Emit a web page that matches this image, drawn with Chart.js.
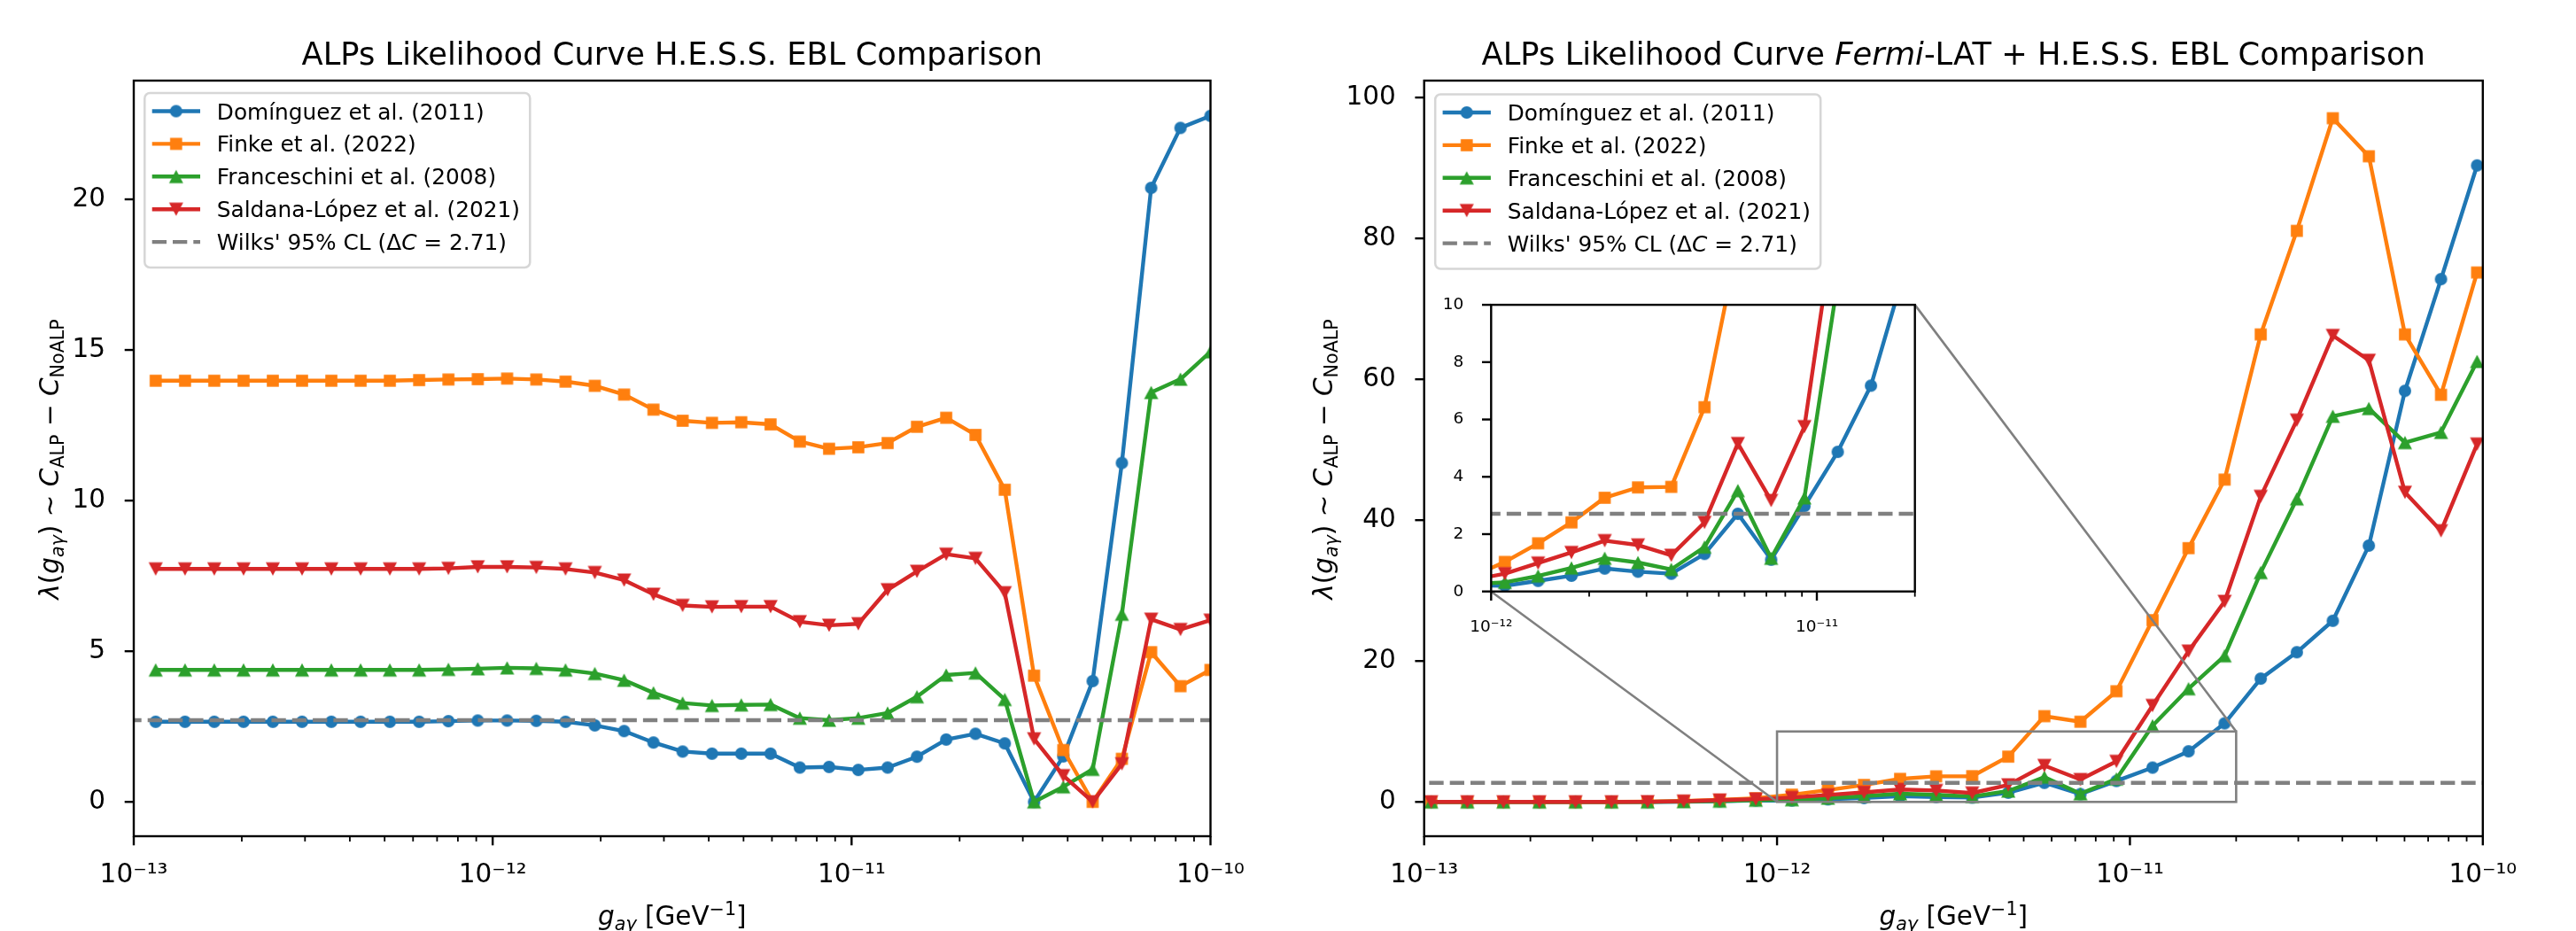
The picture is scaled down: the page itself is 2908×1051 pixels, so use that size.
<!DOCTYPE html>
<html>
<head>
<meta charset="utf-8">
<script src="https://cdn.jsdelivr.net/npm/chart.js@4.4.1/dist/chart.umd.min.js"></script>
<style>
  html, body { margin: 0; padding: 0; background: #fff; }
  #wrap { position: relative; width: 2908px; height: 1051px; overflow: hidden; background: #fff; }
  #wrap canvas { position: absolute; }
</style>
</head>
<body>
<div id="wrap">
  <canvas id="hessChart" width="1460" height="1051" style="left:0px;top:0px"></canvas>
  <canvas id="comboChart" width="1448" height="1051" style="left:1460px;top:0px"></canvas>
  <canvas id="insetChart" width="570" height="420" style="left:1610px;top:310px"></canvas>
</div>
<script>
// ---- data ----
const seriesNames = ['Domínguez et al. (2011)', 'Finke et al. (2022)', 'Franceschini et al. (2008)', 'Saldana-López et al. (2021)'];
const seriesColors = ['#1f77b4', '#ff7f0e', '#2ca02c', '#d62728'];
const seriesMarkers = ['o', 's', '^', 'v'];

// left panel: H.E.S.S. only
const hessX = [1.151e-13, 1.389e-13, 1.676e-13, 2.022e-13, 2.440e-13, 2.944e-13, 3.552e-13, 4.286e-13, 5.171e-13, 6.240e-13,
  7.529e-13, 9.087e-13, 1.097e-12, 1.323e-12, 1.596e-12, 1.926e-12, 2.324e-12, 2.805e-12, 3.383e-12, 4.083e-12,
  4.927e-12, 5.945e-12, 7.174e-12, 8.654e-12, 1.044e-11, 1.260e-11, 1.521e-11, 1.835e-11, 2.214e-11, 2.672e-11,
  3.224e-11, 3.890e-11, 4.695e-11, 5.664e-11, 6.834e-11, 8.246e-11, 1.0e-10];
const hessDominguez = [2.66, 2.66, 2.66, 2.66, 2.66, 2.66, 2.66, 2.66, 2.66, 2.66,
  2.68, 2.70, 2.70, 2.69, 2.66, 2.54, 2.35, 1.97, 1.67, 1.60,
  1.60, 1.60, 1.14, 1.16, 1.06, 1.14, 1.50, 2.07, 2.26, 1.94,
  0.00, 1.51, 4.01, 11.25, 20.38, 22.37, 22.77];
const hessFinke = [13.98, 13.98, 13.98, 13.98, 13.98, 13.98, 13.98, 13.98, 13.98, 14.00,
  14.02, 14.03, 14.05, 14.02, 13.95, 13.81, 13.52, 13.02, 12.65, 12.58,
  12.60, 12.53, 11.96, 11.72, 11.77, 11.91, 12.45, 12.75, 12.18, 10.36,
  4.19, 1.72, 0.00, 1.43, 4.97, 3.84, 4.38];
const hessFranceschini = [4.38, 4.38, 4.38, 4.38, 4.38, 4.38, 4.38, 4.38, 4.38, 4.38,
  4.40, 4.42, 4.45, 4.43, 4.38, 4.26, 4.04, 3.62, 3.28, 3.20,
  3.22, 3.23, 2.78, 2.71, 2.78, 2.95, 3.49, 4.21, 4.28, 3.40,
  0.00, 0.50, 1.08, 6.23, 13.59, 14.03, 14.94];
const hessSaldana = [7.73, 7.73, 7.73, 7.73, 7.73, 7.73, 7.73, 7.73, 7.73, 7.73,
  7.75, 7.80, 7.80, 7.78, 7.73, 7.61, 7.36, 6.89, 6.52, 6.47,
  6.48, 6.48, 5.98, 5.86, 5.91, 7.04, 7.65, 8.22, 8.08, 6.94,
  2.09, 0.87, 0.00, 1.26, 6.06, 5.72, 6.03];

// right panel: Fermi-LAT + H.E.S.S.
const comboX = [1.047e-13, 1.325e-13, 1.677e-13, 2.121e-13, 2.684e-13, 3.396e-13, 4.297e-13, 5.437e-13, 6.880e-13, 8.706e-13,
  1.102e-12, 1.394e-12, 1.764e-12, 2.232e-12, 2.824e-12, 3.573e-12, 4.521e-12, 5.721e-12, 7.239e-12, 9.159e-12,
  1.159e-11, 1.466e-11, 1.855e-11, 2.348e-11, 2.971e-11, 3.758e-11, 4.755e-11, 6.017e-11, 7.613e-11, 9.634e-11];
const comboDominguez = [0, 0, 0, 0, 0, 0, 0.01, 0.04, 0.10, 0.22,
  0.20, 0.37, 0.55, 0.80, 0.69, 0.62, 1.31, 2.71, 1.11, 2.98,
  4.87, 7.18, 11.16, 17.50, 21.25, 25.72, 36.39, 58.36, 74.22, 90.36];
const comboFinke = [0, 0, 0, 0, 0, 0, 0.03, 0.12, 0.30, 0.52,
  1.03, 1.68, 2.41, 3.27, 3.63, 3.65, 6.43, 12.17, 11.39, 15.71,
  25.80, 36.03, 45.76, 66.37, 81.07, 97.06, 91.66, 66.37, 57.80, 75.16];
const comboFranceschini = [0, 0, 0, 0, 0, 0, 0, 0.05, 0.12, 0.25,
  0.32, 0.54, 0.82, 1.16, 1.01, 0.77, 1.55, 3.52, 1.16, 3.27,
  10.81, 16.07, 20.75, 32.56, 43.02, 54.76, 55.85, 51.02, 52.46, 62.54];
const comboSaldana = [0, 0, 0, 0, 0, 0, 0.02, 0.10, 0.25, 0.40,
  0.62, 0.99, 1.36, 1.77, 1.62, 1.26, 2.41, 5.16, 3.17, 5.75,
  13.68, 21.40, 28.46, 43.37, 54.19, 66.22, 62.69, 43.95, 38.48, 50.80];

const wilksLevel = 2.71;

// axis ranges and ticks
const xRange = [1e-13, 1e-10];
const xMajorTicks = [1e-13, 1e-12, 1e-11, 1e-10];
const hessYRange = [-1.14, 23.94];
const hessYTicks = [0, 5, 10, 15, 20];
const comboYRange = [-4.87, 102.4];
const comboYTicks = [0, 20, 40, 60, 80, 100];
const insetXRange = [1e-12, 2e-11];
const insetXTicks = [1e-12, 1e-11];
const insetYRange = [0, 10];
const insetYTicks = [0, 2, 4, 6, 8, 10];

// ---- helpers ----
const FONT = '"DejaVu Sans"';
const supMap = {'-': '⁻', '0': '⁰', '1': '¹', '2': '²', '3': '³', '4': '⁴', '5': '⁵', '6': '⁶', '7': '⁷', '8': '⁸', '9': '⁹'};
const sup = n => String(n).split('').map(c => supMap[c]).join('');
const decadeLabel = v => '10' + sup(Math.round(Math.log10(v)));

// rich text pieces: [text, style]  style: '' normal, 'i' italic, 'sub', 'isub', 'sup'
function drawRich(ctx, parts, x, y, size, align, rotate) {
  ctx.save();
  ctx.translate(x, y);
  if (rotate) ctx.rotate(-Math.PI / 2);
  let w = 0;
  const pieces = parts.map(([t, st]) => {
    const small = st === 'sub' || st === 'isub' || st === 'sup';
    const s = small ? size * 0.7 : size;
    const font = ((st === 'i' || st === 'isub') ? 'italic ' : '') + s + 'px ' + FONT;
    ctx.font = font;
    const p = {t, font, x: w, dy: (st === 'sub' || st === 'isub') ? size * 0.2 : st === 'sup' ? -size * 0.38 : 0};
    w += ctx.measureText(t).width;
    return p;
  });
  const x0 = align === 'center' ? -w / 2 : align === 'right' ? -w : 0;
  ctx.fillStyle = '#000';
  ctx.textAlign = 'left';
  ctx.textBaseline = 'alphabetic';
  pieces.forEach(p => { ctx.font = p.font; ctx.fillText(p.t, x0 + p.x, p.dy); });
  ctx.restore();
}

function markerCanvas(shape, color) {
  const c = document.createElement('canvas');
  c.width = 18; c.height = 18;
  const g = c.getContext('2d');
  g.fillStyle = color;
  g.translate(9, 9);
  g.beginPath();
  if (shape === 'o') g.arc(0, 0, 7, 0, Math.PI * 2);
  else if (shape === 's') g.rect(-6.8, -6.8, 13.6, 13.6);
  else if (shape === '^') { g.moveTo(0, -7.6); g.lineTo(8, 7.6); g.lineTo(-8, 7.6); g.closePath(); }
  else { g.moveTo(0, 7.6); g.lineTo(8, -7.6); g.lineTo(-8, -7.6); g.closePath(); }
  g.fill();
  return c;
}
const markers = seriesMarkers.map((m, i) => markerCanvas(m, seriesColors[i]));

const legendItems = seriesNames.map((n, i) => ({color: seriesColors[i], marker: markers[i], label: [[n, '']]}))
  .concat([{color: '#808080', dash: [16.3, 7], label: [["Wilks' 95% CL (Δ", ''], ['C', 'i'], [' = 2.71)', '']]}]);

function drawLegend(ctx, a, lg) {
  const bx = a.left + lg.dx, by = a.top + lg.dy, w = 435, h = 197, r = 6;
  ctx.save();
  ctx.beginPath();
  ctx.moveTo(bx + r, by);
  ctx.arcTo(bx + w, by, bx + w, by + h, r);
  ctx.arcTo(bx + w, by + h, bx, by + h, r);
  ctx.arcTo(bx, by + h, bx, by, r);
  ctx.arcTo(bx, by, bx + w, by, r);
  ctx.closePath();
  ctx.fillStyle = 'rgba(255,255,255,0.8)';
  ctx.fill();
  ctx.strokeStyle = 'rgba(204,204,204,0.8)';
  ctx.lineWidth = 2.5;
  ctx.stroke();
  legendItems.forEach((it, i) => {
    const cy = by + 20.5 + i * 36.9;
    ctx.strokeStyle = it.color;
    ctx.lineWidth = 4.4;
    ctx.setLineDash(it.dash || []);
    ctx.beginPath();
    ctx.moveTo(bx + 8.4, cy);
    ctx.lineTo(bx + 62.7, cy);
    ctx.stroke();
    ctx.setLineDash([]);
    if (it.marker) ctx.drawImage(it.marker, bx + 35.5 - 9, cy - 9);
    drawRich(ctx, it.label, bx + 81.5, cy + 9, 24.8, 'left', false);
  });
  ctx.restore();
}

// per-chart frame settings
const frames = {};
let insetChart = null;

const mplFrame = {
  id: 'mplFrame',
  beforeDatasetsDraw(chart) {
    const f = frames[chart.canvas.id];
    if (f && f.fillArea) {
      const a = chart.chartArea;
      chart.ctx.save();
      chart.ctx.fillStyle = '#fff';
      chart.ctx.fillRect(a.left, a.top, a.right - a.left, a.bottom - a.top);
      chart.ctx.restore();
    }
  },
  afterDatasetsDraw(chart) {
    const f = frames[chart.canvas.id];
    if (!f) return;
    const ctx = chart.ctx, a = chart.chartArea;
    const xs = chart.scales.x, ys = chart.scales.y;
    ctx.save();
    // zoom indicator for the inset
    if (f.zoomBox && insetChart) {
      const x0 = xs.getPixelForValue(insetXRange[0]), x1 = xs.getPixelForValue(insetXRange[1]);
      const y0 = ys.getPixelForValue(insetYRange[0]), y1 = ys.getPixelForValue(insetYRange[1]);
      const ia = insetChart.chartArea;
      const ox = insetChart.canvas.offsetLeft - chart.canvas.offsetLeft;
      const oy = insetChart.canvas.offsetTop - chart.canvas.offsetTop;
      ctx.strokeStyle = '#808080';
      ctx.lineWidth = 2.6;
      ctx.strokeRect(x0, y1, x1 - x0, y0 - y1);
      ctx.beginPath();
      ctx.moveTo(x0, y0); ctx.lineTo(ox + ia.left, oy + ia.bottom);
      ctx.moveTo(x1, y1); ctx.lineTo(ox + ia.right, oy + ia.top);
      ctx.stroke();
    }
    // spines
    ctx.strokeStyle = '#000';
    ctx.lineWidth = 2.4;
    ctx.strokeRect(a.left, a.top, a.right - a.left, a.bottom - a.top);
    // tick marks
    const tick = (x1, y1, x2, y2, lw) => { ctx.lineWidth = lw; ctx.beginPath(); ctx.moveTo(x1, y1); ctx.lineTo(x2, y2); ctx.stroke(); };
    ys.ticks.forEach(t => { const p = ys.getPixelForValue(t.value); tick(a.left, p, a.left - 10.3, p, 2.4); });
    xs.ticks.forEach(t => { const p = xs.getPixelForValue(t.value); tick(p, a.bottom, p, a.bottom + 10.3, 2.4); });
    const lo = Math.floor(Math.log10(xs.min)), hi = Math.ceil(Math.log10(xs.max));
    for (let e = lo; e < hi; e++) {
      for (let m = 2; m <= 9; m++) {
        const v = m * Math.pow(10, e);
        if (v < xs.min * 0.999 || v > xs.max * 1.001) continue;
        const p = xs.getPixelForValue(v);
        tick(p, a.bottom, p, a.bottom + 5.9, 1.8);
      }
    }
    ctx.restore();
    if (f.legend) drawLegend(ctx, a, f.legend);
  },
  afterDraw(chart) {
    const f = frames[chart.canvas.id];
    if (!f) return;
    const ctx = chart.ctx, a = chart.chartArea, cx = (a.left + a.right) / 2;
    if (f.title) drawRich(ctx, f.title, cx, 72.7, 35.3, 'center', false);
    if (f.xLabel) drawRich(ctx, f.xLabel, cx, 1044, 29.5, 'center', false);
    if (f.yLabel) drawRich(ctx, f.yLabel, f.yLabelX, (a.top + a.bottom) / 2 + 1, 29.5, 'center', true);
  }
};

function lineSets(xs, ysList) {
  const sets = ysList.map((ys, i) => ({
    label: seriesNames[i],
    data: xs.map((x, j) => ({x: x, y: ys[j]})),
    borderColor: seriesColors[i],
    backgroundColor: seriesColors[i],
    borderWidth: 4.4,
    borderJoinStyle: 'round',
    pointStyle: markers[i],
    pointRadius: 7,
    pointHoverRadius: 7,
    pointBorderWidth: 0,
    tension: 0,
    order: 4 - i
  }));
  sets.push({
    label: 'Wilks',
    data: [{x: xs[0] / 10, y: wilksLevel}, {x: xs[xs.length - 1] * 10, y: wilksLevel}],
    borderColor: '#808080',
    borderWidth: 4.4,
    borderDash: [16.3, 7],
    pointRadius: 0,
    order: 0
  });
  return sets;
}

function makeChart(id, c) {
  return new Chart(document.getElementById(id), {
    type: 'line',
    data: {datasets: c.datasets},
    options: {
      animation: false,
      responsive: false,
      devicePixelRatio: 1,
      layout: {padding: c.padding},
      plugins: {legend: {display: false}, tooltip: {enabled: false}, title: {display: false}},
      scales: {
        x: {
          type: 'logarithmic', min: c.xRange[0], max: c.xRange[1],
          afterBuildTicks: s => { s.ticks = c.xTicks.map(v => ({value: v})); },
          afterFit: s => { s.height = c.xHeight; },
          grid: {display: false}, border: {display: false},
          ticks: {autoSkip: false, maxRotation: 0, minRotation: 0, padding: c.xPad, color: '#000',
            font: {family: 'DejaVu Sans', size: c.tickSize}, callback: v => decadeLabel(v)}
        },
        y: {
          type: 'linear', min: c.yRange[0], max: c.yRange[1],
          afterBuildTicks: s => { s.ticks = c.yTicks.map(v => ({value: v})); },
          afterFit: s => { s.width = c.yWidth; },
          grid: {display: false}, border: {display: false},
          ticks: {padding: c.yPad, color: '#000', font: {family: 'DejaVu Sans', size: c.tickSize}, callback: v => String(v)}
        }
      }
    },
    plugins: [mplFrame]
  });
}

const yLabelParts = [['λ', 'i'], ['(', ''], ['g', 'i'], ['aγ', 'isub'], [') ∼ ', ''], ['C', 'i'], ['ALP', 'sub'], [' − ', ''], ['C', 'i'], ['NoALP', 'sub']];
const xLabelParts = [['g', 'i'], ['aγ', 'isub'], [' [GeV', ''], ['−1', 'sup'], [']', '']];

// inset first, so the main panel can connect to it
frames.insetChart = {fillArea: true};
insetChart = makeChart('insetChart', {
  datasets: lineSets(comboX, [comboDominguez, comboFinke, comboFranceschini, comboSaldana]),
  padding: {left: 0, top: 18.3, right: 18.3, bottom: 0},
  xRange: insetXRange, xTicks: insetXTicks, yRange: insetYRange, yTicks: insetYTicks,
  xHeight: 62.3, yWidth: 73.3, xPad: 21, yPad: 23, tickSize: 18.5
});

frames.hessChart = {
  title: [['ALPs Likelihood Curve H.E.S.S. EBL Comparison', '']],
  xLabel: xLabelParts, yLabel: yLabelParts, yLabelX: 66,
  legend: {dx: 12.3, dy: 14}
};
makeChart('hessChart', {
  datasets: lineSets(hessX, [hessDominguez, hessFinke, hessFranceschini, hessSaldana]),
  padding: {left: 0, top: 91, right: 93.5, bottom: 0},
  xRange: xRange, xTicks: xMajorTicks, yRange: hessYRange, yTicks: hessYTicks,
  xHeight: 107, yWidth: 151, xPad: 19, yPad: 24, tickSize: 29.5
});

frames.comboChart = {
  title: [['ALPs Likelihood Curve ', ''], ['Fermi', 'i'], ['-LAT + H.E.S.S. EBL Comparison', '']],
  xLabel: xLabelParts, yLabel: yLabelParts, yLabelX: 44,
  legend: {dx: 12.5, dy: 15.5}, zoomBox: true
};
makeChart('comboChart', {
  datasets: lineSets(comboX, [comboDominguez, comboFinke, comboFranceschini, comboSaldana]),
  padding: {left: 0, top: 91, right: 105.2, bottom: 0},
  xRange: xRange, xTicks: xMajorTicks, yRange: comboYRange, yTicks: comboYTicks,
  xHeight: 107, yWidth: 147.7, xPad: 19, yPad: 24, tickSize: 29.5
});
</script>
</body>
</html>
